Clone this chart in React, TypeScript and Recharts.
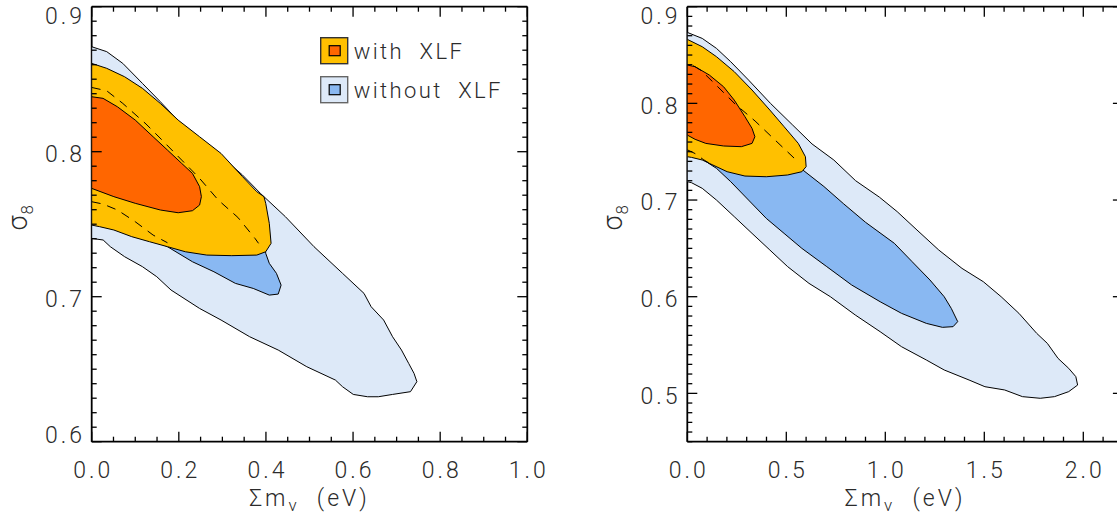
import React from 'react';
import { ScatterChart, Scatter, XAxis, YAxis, ReferenceLine, Legend } from 'recharts';

// contour outlines, as [sum of neutrino masses (eV), sigma8]
const leftOuterBlue = [
  [0, 0.8724], [0.0345, 0.869], [0.0714, 0.8609], [0.1165, 0.8471], [0.1575, 0.8345],
  [0.215, 0.8161], [0.2806, 0.8011], [0.3462, 0.7839], [0.3872, 0.7713], [0.4446, 0.7552],
  [0.5103, 0.7345], [0.5759, 0.7161], [0.6251, 0.7023], [0.6415, 0.6931], [0.6702, 0.6839],
  [0.6907, 0.6724], [0.7112, 0.6632], [0.7277, 0.654], [0.74, 0.6471], [0.7465, 0.6414],
  [0.7318, 0.6345], [0.6907, 0.6326], [0.6579, 0.631], [0.6333, 0.631], [0.6005, 0.6326],
  [0.5759, 0.6379], [0.5595, 0.6425], [0.4938, 0.6517], [0.4282, 0.6632], [0.3626, 0.6724],
  [0.297, 0.6839], [0.2477, 0.6919], [0.1821, 0.7046], [0.1493, 0.7138], [0.1165, 0.7207],
  [0.0755, 0.7276], [0.0427, 0.7345], [0.0263, 0.7391], [0, 0.7402],
];
const leftInnerBlue = [
  [0, 0.856], [0.1, 0.838], [0.2, 0.815], [0.3, 0.79], [0.37, 0.767], [0.395, 0.745],
  [0.3995, 0.7299], [0.4077, 0.723], [0.4241, 0.7161], [0.4348, 0.708], [0.4282, 0.7018],
  [0.4077, 0.7011], [0.3708, 0.7057], [0.3298, 0.7092], [0.2806, 0.7172], [0.2313, 0.7241],
  [0.1739, 0.7345], [0.13, 0.741], [0.06, 0.749], [0, 0.754],
];
const leftOuterXlf = [
  [0, 0.8609], [0.0345, 0.8575], [0.0755, 0.8517], [0.1165, 0.8437], [0.1575, 0.8333],
  [0.1985, 0.8218], [0.2477, 0.8103], [0.297, 0.7988], [0.3462, 0.7828], [0.379, 0.7724],
  [0.3954, 0.769], [0.3995, 0.7644], [0.4077, 0.7506], [0.4118, 0.7368], [0.3995, 0.731],
  [0.379, 0.7287], [0.3216, 0.7283], [0.2642, 0.7287], [0.215, 0.731], [0.1739, 0.7345],
  [0.1329, 0.7379], [0.0919, 0.7414], [0.0509, 0.746], [0.018, 0.7483], [0, 0.7494],
];
const leftInnerXlf = [
  [0, 0.8379], [0.026, 0.8368], [0.059, 0.831], [0.1, 0.8218], [0.141, 0.8103],
  [0.174, 0.8011], [0.2067, 0.7919], [0.2313, 0.785], [0.2477, 0.7759], [0.2518, 0.769],
  [0.2477, 0.7632], [0.2313, 0.7593], [0.1985, 0.7579], [0.1575, 0.7598], [0.1, 0.7644],
  [0.0509, 0.769], [0, 0.7747],
];
const leftDashUpper = [
  [0, 0.8443], [0.0345, 0.842], [0.0714, 0.8333], [0.1247, 0.8191], [0.1616, 0.808],
  [0.2067, 0.7942], [0.2477, 0.7816], [0.2904, 0.7667], [0.3355, 0.7547], [0.3749, 0.7402],
  [0.383, 0.7368],
];
const leftDashLower = [
  [0, 0.7655], [0.026, 0.7639], [0.059, 0.7598], [0.1, 0.7517], [0.141, 0.7425], [0.1739, 0.7372],
];

const rightOuterBlue = [
  [0, 0.8734], [0.0755, 0.8672], [0.1473, 0.8569], [0.2192, 0.8431], [0.31, 0.824],
  [0.42, 0.8], [0.53, 0.778], [0.63, 0.758], [0.74, 0.7414], [0.85, 0.72], [0.97, 0.703],
  [1.06, 0.688], [1.16, 0.669], [1.27, 0.6483], [1.3873, 0.6293], [1.4951, 0.6155],
  [1.5849, 0.6], [1.6748, 0.5828], [1.7646, 0.5621], [1.8185, 0.5517], [1.8724, 0.5362],
  [1.9263, 0.5259], [1.9623, 0.5173], [1.9713, 0.5086], [1.9263, 0.5018], [1.8544, 0.4966],
  [1.7826, 0.4949], [1.6927, 0.4966], [1.6029, 0.5035], [1.5031, 0.5069], [1.4232, 0.5138],
  [1.2974, 0.5242], [1.2075, 0.5345], [1.0818, 0.5483], [0.974, 0.5638], [0.8482, 0.5811],
  [0.7224, 0.6], [0.6146, 0.6138], [0.5067, 0.6311], [0.4169, 0.6483], [0.327, 0.6655],
  [0.2372, 0.6828], [0.1473, 0.7], [0.0755, 0.7121], [0.0216, 0.7179], [0, 0.719],
];
const rightInnerBlue = [
  [0, 0.855], [0.15, 0.835], [0.3, 0.805], [0.45, 0.77], [0.56, 0.745], [0.584, 0.731],
  [0.69, 0.714], [0.79, 0.696], [0.9, 0.677], [1.0458, 0.6552], [1.1357, 0.6362],
  [1.2255, 0.6173], [1.2974, 0.6], [1.3333, 0.5879], [1.3657, 0.5742], [1.3423, 0.569],
  [1.2884, 0.5683], [1.2075, 0.5724], [1.0818, 0.5828], [0.974, 0.5948], [0.8302, 0.6121],
  [0.7044, 0.6311], [0.5786, 0.65], [0.4888, 0.6655], [0.3989, 0.681], [0.3091, 0.7],
  [0.2192, 0.719], [0.1473, 0.7328], [0.1114, 0.7375], [0.06, 0.745], [0, 0.752],
];
const rightOuterXlf = [
  [0, 0.8662], [0.0755, 0.8586], [0.1473, 0.8483], [0.2372, 0.8328], [0.327, 0.8138],
  [0.4169, 0.7931], [0.4888, 0.7759], [0.5606, 0.7586], [0.5966, 0.7448], [0.6002, 0.7345],
  [0.5786, 0.7293], [0.5067, 0.7259], [0.3989, 0.7241], [0.2911, 0.7248], [0.2013, 0.7293],
  [0.1294, 0.7362], [0.0755, 0.7414], [0.0216, 0.7441], [0, 0.7448],
];
const rightInnerXlf = [
  [0, 0.8397], [0.0395, 0.8379], [0.1114, 0.8293], [0.1833, 0.8172], [0.2372, 0.8034],
  [0.2911, 0.7862], [0.327, 0.7741], [0.3414, 0.7655], [0.327, 0.7586], [0.2731, 0.7552],
  [0.1833, 0.7559], [0.0934, 0.7586], [0.0395, 0.7628], [0, 0.7672],
];
const rightDashUpper = [
  [0.03, 0.839], [0.07, 0.834], [0.14, 0.82], [0.241, 0.7994], [0.342, 0.7818], [0.443, 0.7621], [0.544, 0.7425],
];
const rightDashLower = [
  [0, 0.752], [0.04, 0.748], [0.08, 0.742], [0.12, 0.737],
];

const legendItems = [
  { label: 'with\u00a0\u00a0XLF', outer: '#ffc000', inner: '#ff6600', border: '#333' },
  { label: 'without\u00a0\u00a0XLF', outer: '#dde9f8', inner: '#89b8f2', border: '#666' },
];

const LIGHT_BLUE = '#dde9f8';
const MID_BLUE = '#89b8f2';
const GOLD = '#ffc000';
const RED = '#ff6600';

const H = 517;
const PLOT_TOP = 6.7;
const PLOT_H = 435;
const PLOT_W = 435.6;
const YAXIS_W = 60;
const XAXIS_H = 70;

const steps = (from: number, to: number, step: number) => {
  const out: number[] = [];
  const n = Math.round((to - from) / step);
  for (let i = 0; i <= n; i++) out.push(Math.round((from + i * step) * 1000) / 1000);
  return out;
};

const toPts = (arr: number[][]) => arr.map(([x, y]) => ({ x, y }));

const LS = 3;
const labelStyle: React.CSSProperties = {
  fontFamily: 'Roboto, "Liberation Sans", sans-serif',
  fontWeight: 300,
  fontSize: 23,
  letterSpacing: LS,
  fill: '#2b2b2b',
};

const isMajor = (v: number, major: number) => Math.abs(v / major - Math.round(v / major)) < 1e-6;

const noDot = () => <g />;

const polygon = (fill: string) => (props: any) => {
  const p = props.points || [];
  if (!p.length) return <g />;
  const d = p.map((q: any, i: number) => `${i ? 'L' : 'M'}${q.x},${q.y}`).join('') + 'Z';
  return <path d={d} fill={fill} stroke="#000" strokeWidth={1} strokeLinejoin="round" />;
};

const dashedLine = (props: any) => {
  const p = props.points || [];
  if (!p.length) return <g />;
  const d = p.map((q: any, i: number) => `${i ? 'L' : 'M'}${q.x},${q.y}`).join('');
  return <path d={d} fill="none" stroke="#000" strokeWidth={1} strokeDasharray="9 7" />;
};

const XTick = (props: any) => {
  const { x, y, payload, major, top } = props;
  const v = payload.value;
  const big = isMajor(v, major);
  const len = big ? 10 : 5;
  return (
    <g>
      <line x1={x} y1={y} x2={x} y2={y - len} stroke="#000" strokeWidth={1.3} />
      <line x1={x} y1={top} x2={x} y2={top + len} stroke="#000" strokeWidth={1.3} />
      {big && (
        <text x={x + LS / 2} y={y + 36.5} textAnchor="middle" style={labelStyle}>
          {v.toFixed(1)}
        </text>
      )}
    </g>
  );
};

const YTick = (props: any) => {
  const { x, y, payload, major, right, top, bottom } = props;
  const v = payload.value;
  const big = isMajor(v, major);
  const len = big ? 10 : 5;
  const cy = Math.min(Math.max(y + 2, top + 9), bottom - 7);
  return (
    <g>
      <line x1={x} y1={y} x2={x + len} y2={y} stroke="#000" strokeWidth={1.3} />
      <line x1={right - len} y1={y} x2={right} y2={y} stroke="#000" strokeWidth={1.3} />
      {big && (
        <text x={x - 9.7 + LS} y={cy + 8.2} textAnchor="end" style={labelStyle}>
          {v.toFixed(1)}
        </text>
      )}
    </g>
  );
};

const XTitle = (props: any) => {
  const vb = props.viewBox || {};
  const cx = (vb.x ?? 0) + (vb.width ?? 0) / 2;
  const y = (vb.y ?? 0) + 64;
  return (
    <text x={cx} y={y} textAnchor="middle" style={labelStyle}>
      Σm<tspan dy={5} fontSize={17}>ν</tspan>
      <tspan dy={-5}>{' \u00a0(eV)'}</tspan>
    </text>
  );
};

const YTitle = (props: any) => {
  const vb = props.viewBox || {};
  const cx = (vb.x ?? 0) + (vb.width ?? 0) - 73;
  const cy = (vb.y ?? 0) + (vb.height ?? 0) / 2 - 7;
  return (
    <text
      x={cx}
      y={cy}
      transform={`rotate(-90, ${cx}, ${cy})`}
      textAnchor="middle"
      dy="0.3em"
      style={{ ...labelStyle, fontSize: 27, letterSpacing: 1 }}
    >
      σ<tspan dy={6} fontSize={17}>8</tspan>
    </text>
  );
};

const LegendBox = () => (
  <svg width={200} height={70} style={{ display: 'block', overflow: 'visible' }}>
    {legendItems.map((it, i) => (
      <g key={it.label} transform={`translate(0.7, ${0.7 + i * 39})`}>
        <rect x={0} y={0} width={27} height={26} fill={it.outer} stroke={it.border} strokeWidth={1.4} />
        <rect x={8.5} y={8} width={11} height={10} fill={it.inner} stroke="#000" strokeWidth={1.2} />
        <text x={33} y={21.5} style={{ ...labelStyle, fontSize: 22, letterSpacing: 2.4 }}>
          {it.label}
        </text>
      </g>
    ))}
  </svg>
);

type PanelCfg = {
  offsetX: number;
  width: number;
  plotLeft: number;
  xDomain: [number, number];
  yDomain: [number, number];
  xTicks: number[];
  yTicks: number[];
  xMajor: number;
  yMajor: number;
  fills: { name: string; data: number[][]; color: string }[];
  dashes: number[][][];
  legend: boolean;
};

const Panel = ({ cfg }: { cfg: PanelCfg }) => {
  const margin = {
    top: PLOT_TOP,
    left: cfg.plotLeft - YAXIS_W,
    right: cfg.width - cfg.plotLeft - PLOT_W,
    bottom: H - PLOT_TOP - PLOT_H - XAXIS_H,
  };
  const plotRight = cfg.plotLeft + PLOT_W;
  return (
    <div style={{ position: 'absolute', left: cfg.offsetX, top: 0, width: cfg.width, height: H }}>
      <ScatterChart width={cfg.width} height={H} margin={margin}>
        {cfg.fills.map((f) => (
          <Scatter
            key={f.name}
            name={f.name}
            data={toPts(f.data)}
            line={polygon(f.color)}
            shape={noDot}
            legendType="none"
            isAnimationActive={false}
          />
        ))}
        {cfg.dashes.map((d, i) => (
          <Scatter
            key={'dash' + i}
            data={toPts(d)}
            line={dashedLine}
            shape={noDot}
            legendType="none"
            isAnimationActive={false}
          />
        ))}
        <ReferenceLine y={cfg.yDomain[1]} stroke="#000" strokeWidth={1.8} />
        <ReferenceLine x={cfg.xDomain[1]} stroke="#000" strokeWidth={1.8} />
        <XAxis
          type="number"
          dataKey="x"
          domain={cfg.xDomain}
          ticks={cfg.xTicks}
          interval={0}
          allowDataOverflow
          height={XAXIS_H}
          tickSize={0}
          tickMargin={0}
          tickLine={false}
          axisLine={{ stroke: '#000', strokeWidth: 1.8 }}
          tick={<XTick major={cfg.xMajor} top={PLOT_TOP} />}
          label={<XTitle />}
        />
        <YAxis
          type="number"
          dataKey="y"
          domain={cfg.yDomain}
          ticks={cfg.yTicks}
          interval={0}
          allowDataOverflow
          width={YAXIS_W}
          tickSize={0}
          tickMargin={0}
          tickLine={false}
          axisLine={{ stroke: '#000', strokeWidth: 1.8 }}
          tick={<YTick major={cfg.yMajor} right={plotRight} top={PLOT_TOP} bottom={PLOT_TOP + PLOT_H} />}
          label={<YTitle />}
        />
        {cfg.legend && (
          <Legend
            layout="horizontal"
            verticalAlign="middle"
            align="center"
            wrapperStyle={{ left: 320, top: 36.6, width: 200, height: 70 }}
            content={LegendBox}
          />
        )}
      </ScatterChart>
    </div>
  );
};

const leftPanel: PanelCfg = {
  offsetX: 0,
  width: 560,
  plotLeft: 91.7,
  xDomain: [0, 1],
  yDomain: [0.6, 0.9],
  xTicks: steps(0, 1, 0.05),
  yTicks: steps(0.6, 0.9, 0.01),
  xMajor: 0.2,
  yMajor: 0.1,
  fills: [
    { name: 'without XLF 95%', data: leftOuterBlue, color: LIGHT_BLUE },
    { name: 'without XLF 68%', data: leftInnerBlue, color: MID_BLUE },
    { name: 'with XLF 95%', data: leftOuterXlf, color: GOLD },
    { name: 'with XLF 68%', data: leftInnerXlf, color: RED },
  ],
  dashes: [leftDashUpper, leftDashLower],
  legend: true,
};

const rightPanel: PanelCfg = {
  offsetX: 560,
  width: 600,
  plotLeft: 127.3,
  xDomain: [0, 2.2],
  yDomain: [0.45, 0.9],
  xTicks: steps(0, 2.2, 0.1),
  yTicks: steps(0.45, 0.9, 0.01),
  xMajor: 0.5,
  yMajor: 0.1,
  fills: [
    { name: 'without XLF 95%', data: rightOuterBlue, color: LIGHT_BLUE },
    { name: 'without XLF 68%', data: rightInnerBlue, color: MID_BLUE },
    { name: 'with XLF 95%', data: rightOuterXlf, color: GOLD },
    { name: 'with XLF 68%', data: rightInnerXlf, color: RED },
  ],
  dashes: [rightDashUpper, rightDashLower],
  legend: false,
};

export default function App() {
  return (
    <div
      style={{
        position: 'absolute',
        left: 0,
        top: 0,
        width: 1117,
        height: H,
        overflow: 'hidden',
        background: '#fff',
      }}
    >
      <Panel cfg={leftPanel} />
      <Panel cfg={rightPanel} />
    </div>
  );
}
